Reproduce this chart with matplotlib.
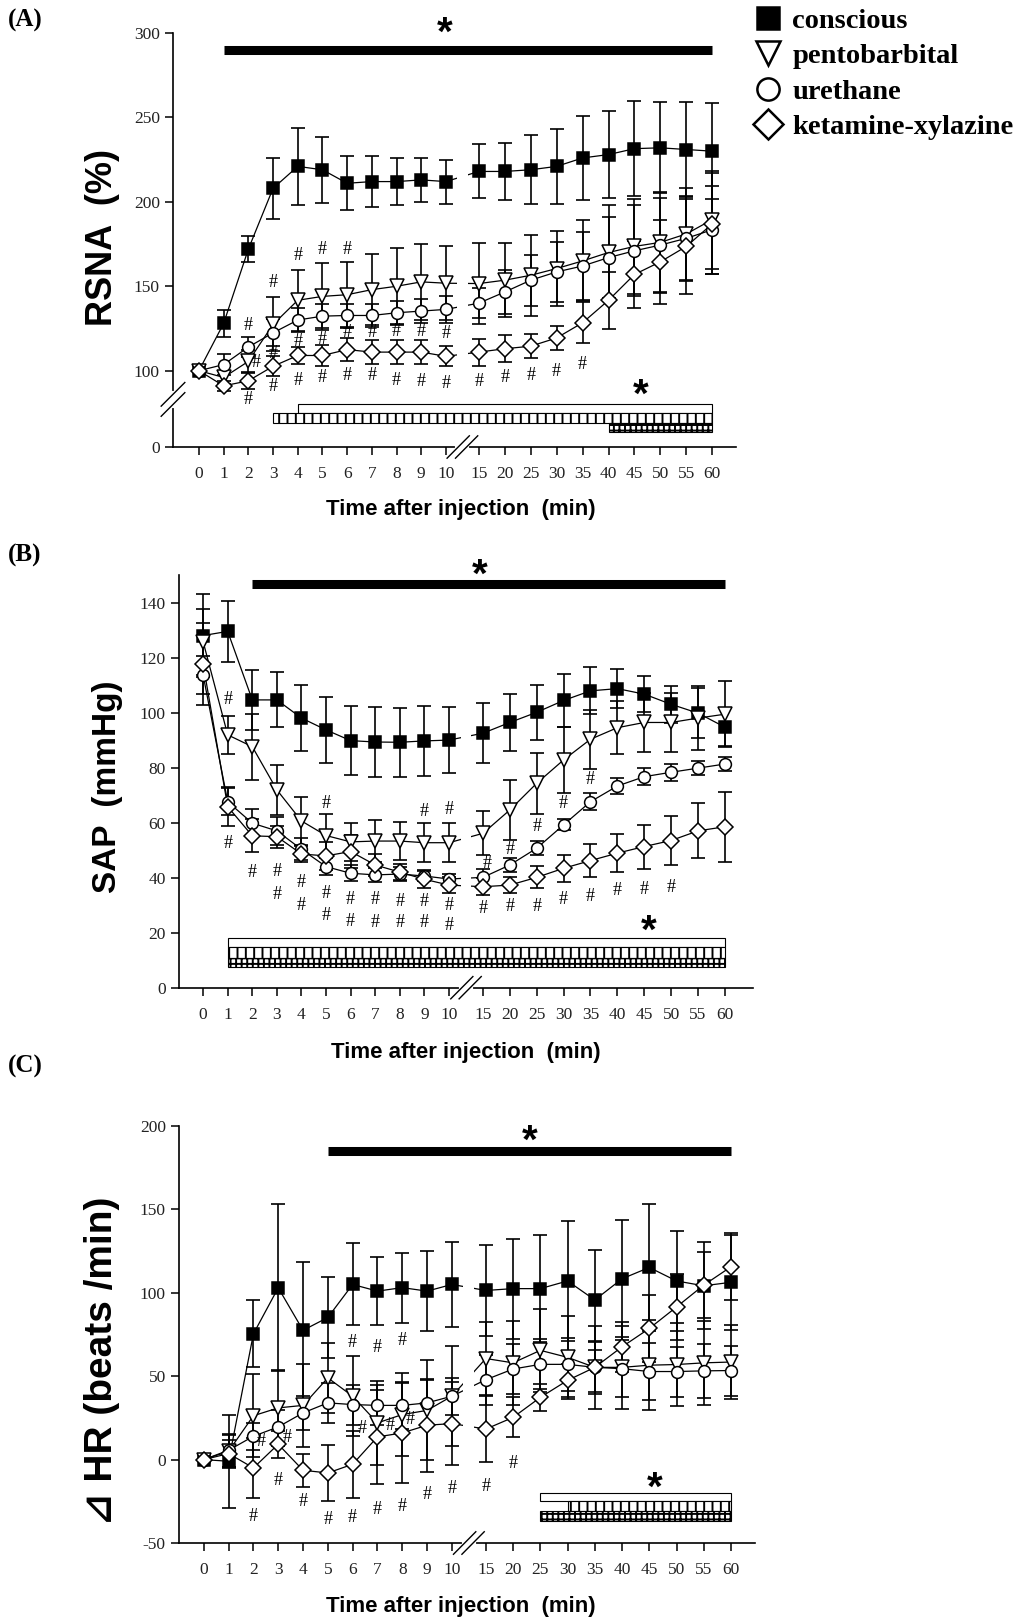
import matplotlib
matplotlib.use('Agg')
import matplotlib.pyplot as plt
from matplotlib.lines import Line2D
from matplotlib.patches import Rectangle

# Anesthesia effects on RSNA, SAP and HR - three stacked panels

times = [0, 1, 2, 3, 4, 5, 6, 7, 8, 9, 10, 15, 20, 25, 30, 35, 40, 45, 50, 55, 60]
groupNames = ['conscious', 'pentobarbital', 'urethane', 'ketamine-xylazine']

# (A) RSNA (%)
rsnaConscious = [100, 128, 172, 208, 221, 219, 211, 212, 212, 213, 212, 218, 218, 219, 221, 226, 228, 231.5, 232, 231, 230]
rsnaConsciousSem = [0, 8, 7.5, 18, 23, 19.5, 16, 15, 14, 13, 13, 16, 17, 20.5, 22, 25, 26, 28, 27, 28, 28.5]
rsnaPento = [100, 96, 105.5, 127.4, 141.7, 144, 145, 148, 150, 152.6, 151.8, 151.6, 153.6, 156.5, 160.5, 165, 170, 173.6, 176, 181, 189.5]
rsnaPentoSem = [0, 4, 7, 16, 18, 19.7, 19.5, 21, 22.4, 22.4, 21.8, 24, 22, 24, 22, 24, 28, 28, 30, 27, 29]
rsnaUre = [100, 103.6, 114, 122.4, 130, 132.3, 132.7, 132.7, 134.3, 135.3, 136.3, 140, 146.6, 153.6, 158.5, 162, 167, 171, 174.4, 178.4, 183.5]
rsnaUreSem = [0, 6, 6, 8, 7, 7, 7, 7, 7, 7, 8, 9, 13, 15, 18, 20, 24, 27, 28, 25, 26]
rsnaKeta = [100, 91, 94, 102.6, 109, 109, 112.5, 111, 111, 111, 108.5, 111, 113, 114.5, 119.4, 128.4, 141.7, 157, 164.5, 173.6, 187]
rsnaKetaSem = [0, 3, 5, 6, 5, 6, 7, 7, 7, 7, 6, 8, 8, 7, 7, 12, 17, 20, 25, 28, 30]
rsnaHashT = [2, 3, 4, 5, 6,
             2.3, 3, 4, 5, 6, 7, 8, 9, 10,
             2, 3, 4, 5, 6, 7, 8, 9, 10, 15, 20, 25, 30, 35]
rsnaHashY = [126.8, 152, 168.5, 171.6, 171.6,
             104.6, 110, 117.5, 118.5, 122.4, 122.4, 123.4, 123.4, 122,
             82.7, 90.7, 94.3, 96, 97, 97, 94.3, 93.7, 92.7, 93.7, 96, 97, 99.6, 103.6]
rsnaBarStart = 1
rsnaBoxStarts = [4, 3, 40]

# (B) SAP (mmHg)
sapConscious = [128, 129.5, 104.6, 104.6, 98, 93.7, 89.8, 89.3, 89.2, 89.7, 90, 92.5, 96.4, 100.1, 104.4, 107.9, 108.7, 106.7, 103, 99.8, 94.7]
sapConsciousSem = [15, 11, 11, 10, 12, 12, 12.6, 12.7, 12.5, 12.6, 12, 11, 10.5, 10, 9.5, 8.5, 7.2, 6.6, 6.8, 9, 7]
sapPento = [125.8, 91.9, 87.6, 71.9, 60.6, 55.3, 53, 53.3, 53.3, 52.7, 52.7, 56.1, 64.6, 74.3, 82.8, 90.3, 94.5, 96.4, 96.4, 98, 99.4]
sapPentoSem = [12, 7, 12, 9, 8.6, 7.8, 7, 7.5, 7, 7, 7, 8, 11, 11, 12, 10.7, 9.6, 10.8, 10.6, 11.6, 12]
sapUre = [113.7, 67.6, 59.8, 57, 50.3, 44, 41.6, 41, 41.3, 40.6, 39.5, 40.1, 44.6, 50.7, 59.2, 67.6, 73.3, 76.7, 78.3, 79.8, 81.3]
sapUreSem = [7, 5, 5, 5, 4, 3, 3, 2.5, 2.5, 2, 2, 3, 2.5, 2.5, 2, 3, 3, 3, 3, 2.5, 2.5]
sapKeta = [117.7, 65.8, 55.2, 54.9, 48.6, 47.9, 49.5, 44.6, 42, 39.4, 37.3, 36.7, 37.3, 40.1, 43.4, 46.2, 48.9, 51.3, 53.5, 57, 58.5]
sapKetaSem = [15, 7, 6, 4, 3, 5, 6, 4, 3, 3, 3, 3, 3, 4, 5, 6, 7, 8, 9, 10, 12.7]
sapHashT = [1, 1, 2, 3, 3, 4, 4, 5, 5, 5, 6, 6, 7, 7, 8, 8, 9, 9, 9, 10, 10, 10,
            15.7, 15, 20, 20, 25, 25, 30, 30, 35, 35, 40, 45, 50]
sapHashY = [104.6, 52.5, 41.8, 42.2, 33.7, 38.2, 29.7, 67, 34.3, 26.1, 32.1, 24, 31.9, 23.7, 31.5, 23.7, 64, 31.5, 23.7, 64.6, 30, 22.5,
            45.2, 28.9, 50.3, 29.5, 58.5, 29.5, 67, 32.1, 75.8, 33.3, 35.3, 35.8, 36.5]
sapBarStart = 2
sapBoxStarts = [1, 1, 1]

# (C) delta HR (beats/min)
hrConscious = [0, -1, 75.4, 103, 77.5, 85.2, 105, 101, 103.1, 101, 105, 101.4, 102.5, 102.5, 107.1, 95.7, 108.4, 115.2, 107.1, 104.2, 106.3]
hrConsciousSem = [0, 28, 20, 50, 41, 24, 24.6, 20.5, 21, 24, 25.4, 27.5, 30, 32, 36, 30, 35, 38, 30, 26, 28.5]
hrPento = [0, 5, 26.3, 31, 32.5, 49, 38, 22, 27, 29.5, 38, 60.6, 58, 65.5, 61.3, 55.3, 55.3, 56.6, 57, 58, 58.5]
hrPentoSem = [0, 10, 25, 23, 25, 21, 24, 25, 25, 30, 30, 22, 25, 25, 25, 25, 25, 27, 25, 25, 22]
hrUre = [0, 5.6, 14, 19.6, 28, 34, 33, 32.5, 32.5, 34, 38, 47.9, 54.3, 57.1, 57.1, 55.3, 54.5, 52.8, 52.8, 53.2, 53.4]
hrUreSem = [0, 10, 8, 10, 10, 12, 12, 12, 14, 14, 11, 15, 15, 15, 16, 16, 17, 17, 15, 16, 15]
hrKeta = [0, 3.6, -5, 9.2, -6.4, -8, -2.8, 13.6, 16, 20.6, 21.6, 18.3, 25.3, 37.3, 47.5, 55.3, 67.6, 78.6, 91.5, 104.6, 115.6]
hrKetaSem = [0, 8, 18, 8, 10, 17, 20, 28, 30, 28, 25, 20, 12, 8, 10, 15, 15, 20, 20, 20, 20]
hrHashT = [2, 3, 4, 5, 6, 7, 8, 9, 10, 6, 7, 8, 2.33, 3.36, 6.4, 7.5, 8.3, 15, 20]
hrHashY = [-33.9, -12.7, -25.4, -36, -34.5, -29.7, -28, -21.2, -17.6, 70, 67, 71.4, 11, 13, 18.4, 20.3, 24.2, -16.3, -2.1]
hrBarStart = 5
hrBoxStarts = [25, 30, 25]

# styles
markers = ['s', 'v', 'o', 'D']
faces = ['black', 'white', 'white', 'white']
msizes = [8.5, 9.5, 8.5, 8]
boxHatches = ['', '||', '+++']
serif = 'Liberation Serif'
sans = ['Liberation Sans', 'DejaVu Sans']
plt.rcParams['hatch.linewidth'] = 1.4


def toPos(t, late0, step):
    # 0-10 min one slot per minute, then 15-60 in 5 min slots after the break
    if t <= 10:
        return t
    return late0 + (t - 15) / 5.0 * step


def drawPanel(ax, cfg, means, sems, hashT, hashY, barStart, boxStarts):
    late0 = cfg['late0']
    step = cfg['step']
    xs = [toPos(t, late0, step) for t in times]

    for i in range(len(means)):
        errX = [xs[k] for k in range(len(xs)) if sems[i][k] > 0]
        errY = [means[i][k] for k in range(len(xs)) if sems[i][k] > 0]
        errS = [sems[i][k] for k in range(len(xs)) if sems[i][k] > 0]
        ax.errorbar(errX, errY, yerr=errS, fmt='none', ecolor='black', elinewidth=1.2,
                    capsize=5, capthick=1.2, zorder=1)
    for i in range(len(means)):
        ax.plot(xs, means[i], color='black', lw=0.9, zorder=2)
        ax.plot(xs, means[i], ls='none', marker=markers[i], ms=msizes[i], mfc=faces[i],
                mec='black', mew=1.1, zorder=4)

    # break in the connecting lines between 10 and 15 min
    xb = (10 + late0) / 2.0
    ax.axvspan(xb - 0.22, xb + 0.22, color='white', lw=0, zorder=3)

    for k in range(len(hashT)):
        ax.text(toPos(hashT[k], late0, step), hashY[k], '#', ha='center', va='center',
                family=serif, fontsize=13, zorder=6)

    # significance bar at the top
    ax.plot([toPos(barStart, late0, step), toPos(60, late0, step)], [cfg['barY'], cfg['barY']],
            color='black', lw=6.5, solid_capstyle='butt', zorder=6, clip_on=False)
    ax.text(cfg['starTop'][0], cfg['starTop'][1], '*', transform=ax.get_yaxis_transform(),
            ha='center', va='center', family=sans, fontweight='bold', fontsize=29, clip_on=False)

    # hatched boxes for the anesthetized groups
    end = toPos(60, late0, step)
    for r in range(3):
        x0 = toPos(boxStarts[r], late0, step)
        y0, y1 = cfg['rows'][r], cfg['rows'][r + 1]
        ax.add_patch(Rectangle((x0, y1), end - x0, y0 - y1, facecolor='white', edgecolor='black',
                               lw=0.8, hatch=boxHatches[r], zorder=5))
    ax.text(cfg['starLow'][0], cfg['starLow'][1], '*', transform=ax.get_yaxis_transform(),
            ha='center', va='center', family=sans, fontweight='bold', fontsize=29)

    # axes
    ax.set_xlim(cfg['xlim'])
    ax.set_ylim(cfg['ylim'])
    ax.set_xticks(xs)
    ax.set_xticklabels([str(t) for t in times], family=serif, fontsize=12.5, color='#222222')
    ax.set_yticks(cfg['yticks'])
    ax.set_yticklabels(cfg['ylabels'], family=serif, fontsize=12.5, color='#222222')
    ax.spines['top'].set_visible(False)
    ax.spines['right'].set_visible(False)
    ax.spines['left'].set_linewidth(1.2)
    ax.spines['bottom'].set_linewidth(1.2)
    ax.tick_params(direction='out', length=6, width=1.1)
    ax.tick_params(axis='x', pad=8)

    # x axis break marks
    tr = ax.get_xaxis_transform()
    ax.plot([xb - 0.2, xb + 0.2], [0, 0], color='white', lw=3, transform=tr, clip_on=False, zorder=7)
    for dx in [-0.17, 0.17]:
        ax.plot([xb + dx - 0.45, xb + dx + 0.45], [-0.027, 0.027], color='black', lw=1,
                transform=tr, clip_on=False, zorder=8)

    ax.set_xlabel('Time after injection  (min)', family=sans, fontweight='bold', fontsize=16)
    ax.xaxis.set_label_coords(cfg['xlabelPos'][0], cfg['xlabelPos'][1])
    ax.xaxis.label.set_va('center')
    ax.set_ylabel(cfg['ylabel'], family=sans, fontweight='bold', fontsize=cfg['ylabelSize'])
    ax.yaxis.set_label_coords(cfg['ylabelPos'][0], cfg['ylabelPos'][1])
    ax.yaxis.label.set_va('center')


W, H = 1023, 1623
fig = plt.figure(figsize=(W / 100, H / 100), dpi=100, facecolor='white')

yZero = 54.8  # where "0" sits on the broken RSNA axis

panelA = dict(late0=11.33, step=1.05, xlim=(-1.05, 21.74), ylim=(yZero, 300),
              yticks=[yZero, 100, 150, 200, 250, 300], ylabels=['0', '100', '150', '200', '250', '300'],
              barY=290, starTop=(0.483, 299.5), starLow=(0.831, 85.2), rows=[80.4, 75, 69, 63.7],
              ylabel='RSNA  (%)', ylabelSize=26, ylabelPos=(-0.126, 0.505), xlabelPos=(0.511, -0.152))
panelB = dict(late0=11.38, step=1.093, xlim=(-0.98, 22.36), ylim=(0, 150),
              yticks=[0, 20, 40, 60, 80, 100, 120, 140], ylabels=['0', '20', '40', '60', '80', '100', '120', '140'],
              barY=146.8, starTop=(0.524, 149.7), starLow=(0.819, 20.5), rows=[18.1, 14.8, 10.8, 7.5],
              ylabel='SAP  (mmHg)', ylabelSize=24, ylabelPos=(-0.125, 0.486), xlabelPos=(0.5, -0.156))
panelC = dict(late0=11.37, step=1.098, xlim=(-1.0, 22.22), ylim=(-50, 200),
              yticks=[-50, 0, 50, 100, 150, 200], ylabels=['-50', '0', '50', '100', '150', '200'],
              barY=185, starTop=(0.609, 190.6), starLow=(0.826, -17.4), rows=[-20.1, -24.7, -31, -37],
              ylabel='⊿ HR (beats /min)', ylabelSize=28, ylabelPos=(-0.134, 0.436), xlabelPos=(0.49, -0.153))

axA = fig.add_axes([173 / W, 1 - 447 / H, 563 / W, 414 / H])
drawPanel(axA, panelA, [rsnaConscious, rsnaPento, rsnaUre, rsnaKeta],
          [rsnaConsciousSem, rsnaPentoSem, rsnaUreSem, rsnaKetaSem], rsnaHashT, rsnaHashY, rsnaBarStart, rsnaBoxStarts)

# y axis break on the RSNA axis
trY = axA.get_yaxis_transform()
axA.plot([0, 0], [79, 87], color='white', lw=3, transform=trY, clip_on=False, zorder=7)
for dy in [-3, 3]:
    axA.plot([-0.021, 0.021], [83 + dy - 7, 83 + dy + 7], color='black', lw=1, transform=trY,
             clip_on=False, zorder=8)

axB = fig.add_axes([179 / W, 1 - 987.7 / H, 574 / W, 412.7 / H])
drawPanel(axB, panelB, [sapConscious, sapPento, sapUre, sapKeta],
          [sapConsciousSem, sapPentoSem, sapUreSem, sapKetaSem], sapHashT, sapHashY, sapBarStart, sapBoxStarts)

axC = fig.add_axes([179 / W, 1 - 1543 / H, 576 / W, 417 / H])
drawPanel(axC, panelC, [hrConscious, hrPento, hrUre, hrKeta],
          [hrConsciousSem, hrPentoSem, hrUreSem, hrKetaSem], hrHashT, hrHashY, hrBarStart, hrBoxStarts)

# panel letters
for lab, ypx in [('(A)', 20), ('(B)', 555), ('(C)', 1066)]:
    fig.text(8 / W, 1 - ypx / H, lab, family=serif, fontweight='bold', fontsize=18, va='center')

# legend with markers only
handles = []
for i in range(4):
    handles.append(Line2D([], [], ls='none', marker=markers[i], ms=[16, 17, 16, 15][i],
                          mfc=faces[i], mec='black', mew=1.8))
fig.legend(handles, groupNames, loc='upper left', bbox_to_anchor=(754 / W, 1 - 8 / H), frameon=False,
           prop=dict(family=serif, weight='bold', size=20.5), handlelength=1.0, handletextpad=0.35,
           labelspacing=0.33, borderaxespad=0, borderpad=0)

plt.savefig('out.png', dpi=100, facecolor='white')
